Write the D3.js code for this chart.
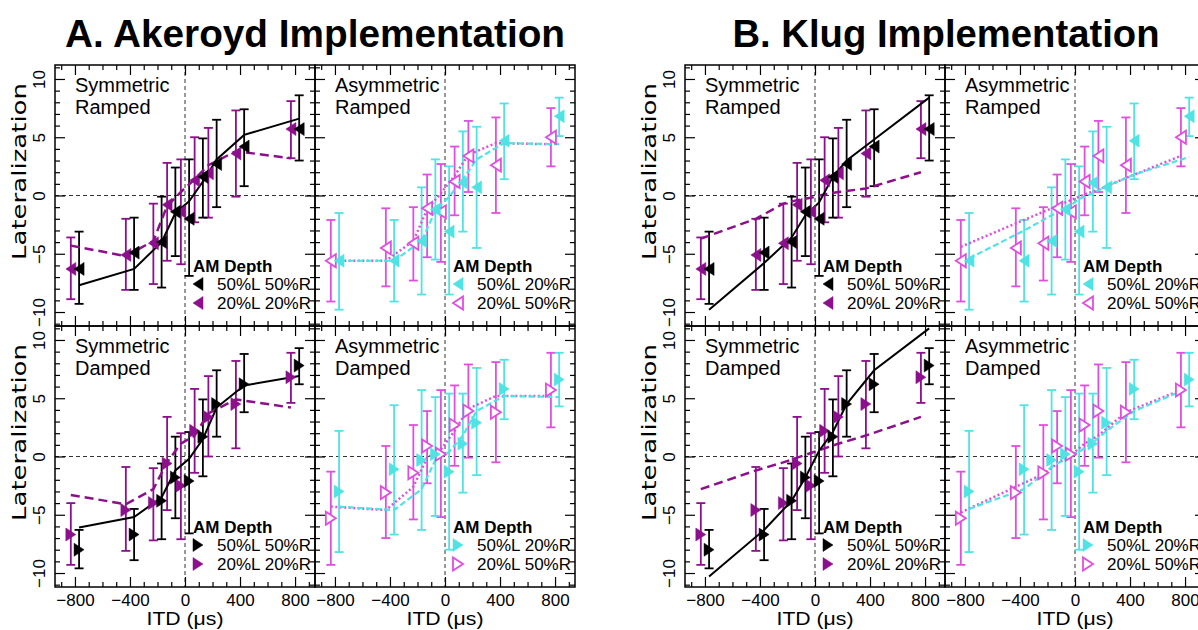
<!DOCTYPE html>
<html><head><meta charset="utf-8">
<script src="https://cdn.jsdelivr.net/npm/d3@7"></script>
<style>body{margin:0;background:#fff} svg{display:block}</style>
</head><body><svg id="c" width="1198" height="630"></svg>
<script>
// ---------- DATA ----------
const itd = [-800, -400, -200, -100, 0, 100, 200, 400, 800];
const xTickLabels = [-800, -400, 0, 400, 800];
const yTickLabels = [-10, -5, 0, 5, 10];
const legendSym = [["50%L", "50%R"], ["20%L", "20%R"]];
const legendAsym = [["50%L", "20%R"], ["20%L", "50%R"]];

// Symmetric Ramped
const srBlackMean = [-6.3, -4.9, -4.0, -1.4, -2.0, 1.6, 2.7, 4.2, 5.7];
const srBlackLo   = [-9.3, -8.1, -7.9, -5.2, -6.9, -1.9, -1.0, 0.8, 3.0];
const srBlackHi   = [-3.1, -1.9, -0.1, 2.4, 3.1, 4.9, 6.5, 7.4, 8.6];
const srPurpleMean = [-6.3, -5.1, -4.1, -0.8, -1.4, 1.3, 1.9, 3.6, 5.7];
const srPurpleLo   = [-8.9, -8.1, -7.6, -5.6, -5.9, -2.3, -1.9, -0.1, 3.2];
const srPurpleHi   = [-3.6, -2.0, -0.7, 2.8, 3.1, 5.0, 5.8, 7.3, 8.1];
// Asymmetric Ramped
const arCyanMean = [-5.6, -5.6, -3.9, -1.2, -3.1, 1.1, 0.7, 4.7, 6.8];
const arCyanLo   = [-9.8, -9.1, -8.5, -5.5, -8.5, -3.1, -4.5, 1.4, 5.1];
const arCyanHi   = [-1.5, -2.1, 0.7, 3.1, 2.5, 5.5, 5.9, 7.9, 8.4];
const arMagentaMean = [-5.6, -4.5, -4.1, -1.1, -1.4, 1.2, 3.4, 2.6, 5.0];
const arMagentaLo   = [-9.1, -7.8, -7.3, -5.3, -5.7, -1.7, 0.3, -1.5, 2.5];
const arMagentaHi   = [-2.1, -1.1, -1.0, 1.8, 2.7, 4.2, 6.4, 6.7, 7.5];
// Symmetric Damped
const sdBlackMean = [-8.0, -6.7, -3.8, -1.8, -2.1, 1.7, 4.5, 6.2, 7.8];
const sdBlackLo   = [-9.6, -8.9, -7.1, -5.3, -6.6, -1.7, 1.7, 3.8, 6.2];
const sdBlackHi   = [-6.3, -4.5, -0.6, 1.7, 2.1, 4.9, 7.4, 8.8, 9.3];
const sdPurpleMean = [-6.7, -4.6, -4.0, -0.6, -2.5, 2.2, 3.4, 4.5, 6.8];
const sdPurpleLo   = [-9.3, -8.1, -7.2, -4.6, -7.1, -1.4, 0.0, 0.7, 4.6];
const sdPurpleHi   = [-4.0, -0.9, -1.0, 3.4, 2.0, 5.8, 6.9, 8.2, 8.9];
// Asymmetric Damped
const adCyanMean = [-3.0, -1.1, -0.3, 0.2, -1.3, 1.1, 2.9, 5.8, 6.6];
const adCyanLo   = [-8.2, -6.7, -6.3, -5.1, -8.0, -3.1, -1.6, 3.2, 4.3];
const adCyanHi   = [2.2, 4.4, 5.7, 5.1, 5.4, 5.4, 7.6, 8.3, 8.9];
const adMagentaMean = [-5.3, -3.1, -1.4, 0.9, 0.2, 2.7, 3.9, 3.8, 5.7];
const adMagentaLo   = [-9.3, -7.0, -5.4, -2.3, -5.2, -0.8, -0.1, -0.5, 2.5];
const adMagentaHi   = [-1.3, 0.9, 2.7, 3.9, 5.7, 6.1, 7.9, 8.1, 8.9];

// Model predictions: A. Akeroyd implementation
const akSRBlack   = [-7.7, -6.3, -4.0, -1.5, -0.5, 1.2, 3.1, 5.2, 6.6];
const akSRPurple  = [-4.3, -5.2, -3.9, -0.9, 0.3, 1.4, 2.6, 3.8, 3.2];
const akARCyan    = [-5.6, -5.6, -3.9, -1.3, -0.1, 1.4, 3.1, 4.5, 4.4];
const akARMagenta = [-5.6, -5.6, -3.9, -1.2, 0.2, 1.7, 3.5, 4.5, 4.4];
const akSDBlack   = [-6.1, -5.2, -3.5, -1.2, -0.2, 1.5, 4.2, 6.1, 6.9];
const akSDPurple  = [-3.3, -4.1, -2.8, -0.5, 1.1, 1.8, 3.7, 4.9, 4.2];
const akADCyan    = [-4.3, -4.6, -2.8, -0.3, 0.4, 1.8, 3.9, 5.2, 5.1];
const akADMagenta = [-4.3, -4.6, -2.6, -0.1, 0.6, 2.2, 4.1, 5.2, 5.2];
// Model predictions: B. Klug implementation
const klSRBlack   = [-9.8, -5.8, -3.6, -1.7, -0.6, 1.6, 3.0, 4.8, 8.4];
const klSRPurple  = [-3.7, -2.0, -0.7, -0.4, -0.2, 0.1, 0.3, 0.6, 2.0];
const klARCyan    = [-5.4, -3.0, -1.7, -1.2, -0.3, 0.2, 0.8, 1.8, 3.3];
const klARMagenta = [-4.4, -2.4, -1.4, -0.9, -0.4, 0.1, 0.5, 1.5, 3.4];
const klSDBlack   = [-10.3, -6.3, -3.8, -1.8, 0.5, 2.1, 4.5, 7.4, 11.0];
const klSDPurple  = [-2.8, -1.2, -0.5, -0.1, 0.3, 0.7, 1.1, 1.8, 3.4];
const klADCyan    = [-4.5, -2.8, -0.9, -0.2, 0.4, 1.2, 2.2, 3.9, 5.9];
const klADMagenta = [-4.8, -2.6, -1.5, -0.6, 0.1, 1.1, 1.8, 3.8, 5.7];

// ---------- STYLE ----------
const styles = {
  black:   {color: "#000000", fill: true,  off: 30,  dash: null,    lw: 2},
  purple:  {color: "#8c0f8c", fill: true,  off: -30, dash: "9,5",   lw: 2.5},
  cyan:    {color: "#4fe3e3", fill: true,  off: 30,  dash: "6,3",   lw: 2.2},
  magenta: {color: "#e04ee0", fill: false, off: -30, dash: "2,2.5", lw: 2.5}
};

const panelDefs = [
  {row: 0, col: 0, label: ["Symmetric", "Ramped"], legend: legendSym, series: [
    {st: "purple", mean: srPurpleMean, lo: srPurpleLo, hi: srPurpleHi, model: {A: akSRPurple, B: klSRPurple}},
    {st: "black", mean: srBlackMean, lo: srBlackLo, hi: srBlackHi, model: {A: akSRBlack, B: klSRBlack}}]},
  {row: 0, col: 1, label: ["Asymmetric", "Ramped"], legend: legendAsym, series: [
    {st: "magenta", mean: arMagentaMean, lo: arMagentaLo, hi: arMagentaHi, model: {A: akARMagenta, B: klARMagenta}},
    {st: "cyan", mean: arCyanMean, lo: arCyanLo, hi: arCyanHi, model: {A: akARCyan, B: klARCyan}}]},
  {row: 1, col: 0, label: ["Symmetric", "Damped"], legend: legendSym, series: [
    {st: "purple", mean: sdPurpleMean, lo: sdPurpleLo, hi: sdPurpleHi, model: {A: akSDPurple, B: klSDPurple}},
    {st: "black", mean: sdBlackMean, lo: sdBlackLo, hi: sdBlackHi, model: {A: akSDBlack, B: klSDBlack}}]},
  {row: 1, col: 1, label: ["Asymmetric", "Damped"], legend: legendAsym, series: [
    {st: "magenta", mean: adMagentaMean, lo: adMagentaLo, hi: adMagentaHi, model: {A: akADMagenta, B: klADMagenta}},
    {st: "cyan", mean: adCyanMean, lo: adCyanLo, hi: adCyanHi, model: {A: akADCyan, B: klADCyan}}]}
];

const groups = [
  {x0: 55,  title: "A. Akeroyd Implementation", cx: 315, tl: 500, key: "A"},
  {x0: 685, title: "B. Klug Implementation",    cx: 946, tl: 427, key: "B"}
];

const PW = 260, PH = 261, TOP = 65;
const XDOM = [-945, 945], YDOM = [-11.2, 11.2];
const svg = d3.select("#c");
const SANS = "'Liberation Sans', Arial, sans-serif";
const WIDE = "'DejaVu Sans', 'Liberation Sans', sans-serif";

function tri(dir) {
  return dir < 0 ? "M-5,0L5,-6.5L5,6.5Z" : "M5,0L-5,-6.5L-5,6.5Z";
}

function tickAxes(g, axisFn, scale, vals, majorTest, size, tx, ty) {
  const minor = vals.filter(v => !majorTest(v));
  const major = vals.filter(majorTest);
  [[minor, size], [major, size * 2]].forEach(([tv, s]) => {
    const a = g.append("g").attr("transform", `translate(${tx},${ty})`)
      .call(axisFn(scale).tickValues(tv).tickSize(-s).tickFormat(""));
    a.select(".domain").remove();
    a.selectAll("line").attr("stroke", "#000").attr("stroke-width", 1.2);
  });
}

groups.forEach(gr => {
  // title
  svg.append("text").attr("x", gr.cx).attr("y", 47).attr("text-anchor", "middle")
    .attr("font-family", SANS).attr("font-weight", "bold").attr("font-size", 38)
    .attr("textLength", gr.tl).attr("lengthAdjust", "spacingAndGlyphs")
    .text(gr.title);

  panelDefs.forEach(p => {
    const px = gr.x0 + p.col * PW, py = TOP + p.row * PH;
    const x = d3.scaleLinear().domain(XDOM).range([px, px + PW]);
    const y = d3.scaleLinear().domain(YDOM).range([py + PH, py]);
    const g = svg.append("g");
    const dir = p.row === 0 ? -1 : 1;

    // zero reference lines
    g.append("line").attr("x1", px).attr("x2", px + PW).attr("y1", y(0)).attr("y2", y(0))
      .attr("stroke", "#333").attr("stroke-width", 1).attr("stroke-dasharray", "4,3");
    g.append("line").attr("x1", x(0)).attr("x2", x(0)).attr("y1", py).attr("y2", py + PH)
      .attr("stroke", "#333").attr("stroke-width", 1).attr("stroke-dasharray", "4,3");

    // ticks (inward on all 4 sides)
    const xt = d3.range(-900, 901, 100);
    const yt = d3.range(-11, 12, 1);
    tickAxes(g, d3.axisBottom, x, xt, v => v % 400 === 0, 5, 0, py + PH);
    tickAxes(g, d3.axisTop, x, xt, v => v % 400 === 0, 5, 0, py);
    tickAxes(g, d3.axisLeft, y, yt, v => v % 5 === 0, 5, px, 0);
    tickAxes(g, d3.axisRight, y, yt, v => v % 5 === 0, 5, px + PW, 0);

    // frame
    g.append("rect").attr("x", px).attr("y", py).attr("width", PW).attr("height", PH)
      .attr("fill", "none").attr("stroke", "#000").attr("stroke-width", 1.5);

    // tick labels
    if (p.row === 1) {
      const ax = g.append("g").attr("transform", `translate(0,${py + PH})`)
        .call(d3.axisBottom(x).tickValues(xTickLabels).tickSize(0).tickPadding(7));
      ax.select(".domain").remove();
      ax.selectAll("text").attr("font-family", SANS).attr("font-size", 17).attr("fill", "#000");
      g.append("text").attr("x", x(0)).attr("y", 625).attr("text-anchor", "middle")
        .attr("font-family", SANS).attr("font-size", 19)
        .attr("textLength", 77).attr("lengthAdjust", "spacingAndGlyphs")
        .text("ITD (\u03bcs)");
    }
    if (p.col === 0) {
      const ay = g.append("g").attr("transform", `translate(${px},0)`)
        .call(d3.axisLeft(y).tickValues(yTickLabels).tickSize(0));
      ay.select(".domain").remove();
      ay.selectAll("text").attr("font-family", SANS).attr("font-size", 17).attr("fill", "#000")
        .attr("transform", "rotate(-90)").attr("x", 0).attr("y", -10).attr("dy", 0)
        .attr("text-anchor", "middle");
      const cy = py + PH / 2 - 24;
      g.append("text").attr("transform", `translate(${px - 29},${cy}) rotate(-90)`)
        .attr("text-anchor", "middle").attr("font-family", WIDE).attr("font-size", 19)
        .attr("textLength", 177).attr("lengthAdjust", "spacingAndGlyphs")
        .text("Lateralization");
    }

    // panel label
    p.label.forEach((t, i) => {
      g.append("text").attr("x", px + 20).attr("y", py + 27 + i * 22)
        .attr("font-family", SANS).attr("font-size", 20).text(t);
    });

    // error bars
    p.series.forEach(s => {
      const st = styles[s.st];
      itd.forEach((v, i) => {
        const xx = x(v + st.off);
        g.append("line").attr("x1", xx).attr("x2", xx).attr("y1", y(s.lo[i])).attr("y2", y(s.hi[i]))
          .attr("stroke", st.color).attr("stroke-width", 1.8);
        [s.lo[i], s.hi[i]].forEach(e => {
          g.append("line").attr("x1", xx - 4.5).attr("x2", xx + 4.5).attr("y1", y(e)).attr("y2", y(e))
            .attr("stroke", st.color).attr("stroke-width", 1.8);
        });
      });
    });

    // model lines
    p.series.forEach(s => {
      const st = styles[s.st];
      const line = d3.line().x((v, i) => x(itd[i] + st.off)).y(v => y(v));
      g.append("path").attr("d", line(s.model[gr.key])).attr("fill", "none")
        .attr("stroke", st.color).attr("stroke-width", st.lw)
        .attr("stroke-dasharray", st.dash);
    });

    // markers
    p.series.forEach(s => {
      const st = styles[s.st];
      g.selectAll(null).data(s.mean).enter().append("path")
        .attr("transform", (v, i) => `translate(${x(itd[i] + st.off)},${y(v)})`)
        .attr("d", tri(dir))
        .attr("fill", st.fill ? st.color : "#fff")
        .attr("stroke", st.color).attr("stroke-width", st.fill ? 0.5 : 1.8);
    });

    // legend
    g.append("text").attr("x", px + 138).attr("y", py + 207).attr("font-family", SANS)
      .attr("font-weight", "bold").attr("font-size", 17).text("AM Depth");
    const legSeries = [p.series[1], p.series[0]];
    legSeries.forEach((s, i) => {
      const st = styles[s.st];
      const ly = py + 219 + i * 19;
      g.append("path").attr("transform", `translate(${px + 143},${ly})`).attr("d", tri(dir))
        .attr("fill", st.fill ? st.color : "#fff").attr("stroke", st.color)
        .attr("stroke-width", st.fill ? 0.5 : 1.8);
      g.append("text").attr("x", px + 162).attr("y", ly + 6).attr("font-family", SANS)
        .attr("font-size", 17).text(p.legend[i][0]);
      g.append("text").attr("x", px + 256).attr("y", ly + 6).attr("text-anchor", "end")
        .attr("font-family", SANS).attr("font-size", 17).text(p.legend[i][1]);
    });
  });
});
</script></body></html>
